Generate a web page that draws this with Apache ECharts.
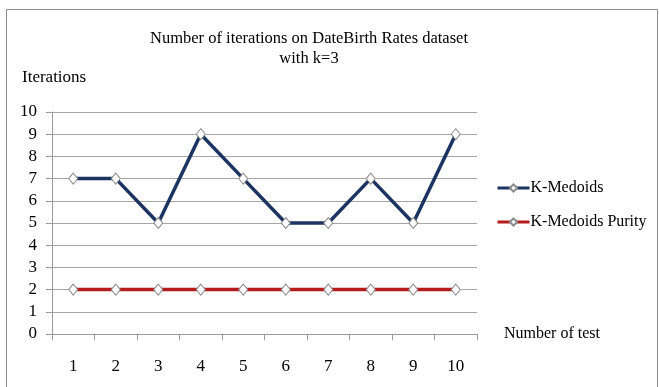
<!DOCTYPE html>
<html>
<head>
<meta charset="utf-8">
<script src="https://cdn.jsdelivr.net/npm/echarts@6/dist/echarts.min.js"></script>
<style>
  html, body { margin: 0; padding: 0; background: #ffffff; }
  #chart { width: 659px; height: 387px; }
</style>
</head>
<body>
<div id="chart"></div>
<script>
// Test runs and iteration counts for each method
const tests = ['1', '2', '3', '4', '5', '6', '7', '8', '9', '10'];
const kMedoids = [7, 7, 5, 9, 7, 5, 5, 7, 5, 9];
const kMedoidsPurity = [2, 2, 2, 2, 2, 2, 2, 2, 2, 2];
const seriesNames = ['K-Medoids', 'K-Medoids Purity'];

const serif = '"Liberation Serif", "Times New Roman", serif';
const chart = echarts.init(document.getElementById('chart'), null, { renderer: 'canvas' });

function lineSeries(name, data, color) {
  return {
    name: name,
    type: 'line',
    data: data,
    symbol: 'diamond',
    symbolSize: [9, 11],
    showAllSymbol: true,
    lineStyle: { color: color, width: 3.5 },
    itemStyle: { color: '#ffffff', borderColor: '#8a8a8a', borderWidth: 1 },
    emphasis: { disabled: true },
    z: name === seriesNames[0] ? 3 : 2
  };
}

chart.setOption({
  animation: false,
  backgroundColor: '#ffffff',
  textStyle: { fontFamily: serif },
  title: {
    text: 'Number of iterations on DateBirth Rates dataset\nwith k=3',
    left: 304,
    textAlign: 'center',
    top: 24,
    textStyle: { fontFamily: serif, fontSize: 16.5, fontWeight: 'normal', color: '#000', lineHeight: 20 }
  },
  legend: {
    orient: 'vertical',
    left: 491,
    top: 175,
    itemWidth: 32,
    itemHeight: 9,
    itemGap: 18,
    data: seriesNames,
    lineStyle: { width: 3 },
    textStyle: { fontFamily: serif, fontSize: 16, color: '#000', padding: [0, 0, 0, -4] }
  },
  grid: { left: 52, right: 182, top: 112, bottom: 53, containLabel: false },
  xAxis: {
    type: 'category',
    data: tests,
    boundaryGap: true,
    name: 'Number of test',
    nameLocation: 'end',
    nameGap: 27,
    nameTextStyle: { fontFamily: serif, fontSize: 16, color: '#000', verticalAlign: 'middle' },
    axisLine: { lineStyle: { color: '#9a9a9a', width: 1 } },
    axisTick: { show: true, length: 6, alignWithLabel: false, lineStyle: { color: '#9a9a9a' } },
    axisLabel: { fontFamily: serif, fontSize: 17, color: '#000', margin: 24 },
    splitLine: { show: false }
  },
  yAxis: {
    type: 'value',
    min: 0,
    max: 10,
    interval: 1,
    axisLine: { show: true, lineStyle: { color: '#9a9a9a', width: 1 } },
    axisTick: { show: true, length: 6, lineStyle: { color: '#9a9a9a' } },
    axisLabel: { fontFamily: serif, fontSize: 17, color: '#000', margin: 15 },
    splitLine: { show: true, lineStyle: { color: '#a6a6a6', width: 1 } }
  },
  graphic: [
    {
      type: 'polyline',
      shape: { points: [[6.5, 400], [6.5, 9.5], [657.5, 9.5], [657.5, 400]] },
      style: { stroke: '#8c8c8c', lineWidth: 1, fill: null },
      silent: true
    },
    {
      type: 'text',
      left: 22,
      top: 69,
      style: { text: 'Iterations', fontFamily: serif, fontSize: 17, fill: '#000' }
    }
  ],
  series: [
    lineSeries(seriesNames[0], kMedoids, '#1c3461'),
    lineSeries(seriesNames[1], kMedoidsPurity, '#b51c1c')
  ],
  color: ['#1c3461', '#b51c1c']
});
</script>
</body>
</html>
